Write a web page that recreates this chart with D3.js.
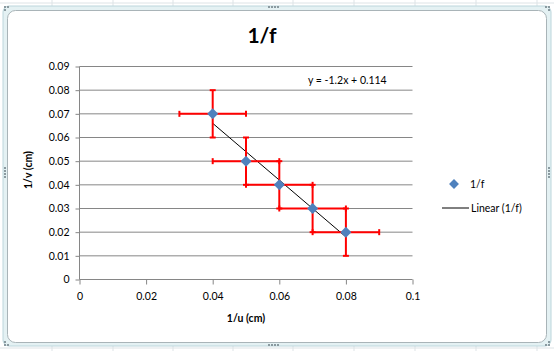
<!DOCTYPE html>
<html><head><meta charset="utf-8">
<script src="https://cdn.jsdelivr.net/npm/d3@7"></script>
<style>body{margin:0;background:#fff;}svg{display:block;font-family:Lato,"Open Sans",sans-serif;}</style>
</head><body>
<svg id="c" width="554" height="351"></svg>
<script>
const xValues = [0.04, 0.05, 0.06, 0.07, 0.08];
const yValues = [0.07, 0.05, 0.04, 0.03, 0.02];
const xErr = [0.01, 0.01, 0.01, 0.01, 0.01];
const yErr = [0.01, 0.01, 0.01, 0.01, 0.01];
const xTicks = [0, 0.02, 0.04, 0.06, 0.08, 0.1];
const yTicks = [0, 0.01, 0.02, 0.03, 0.04, 0.05, 0.06, 0.07, 0.08, 0.09];
const trendSlope = -1.2, trendIntercept = 0.114;
const trendRange = [0.04, 0.08];

const svg = d3.select("#c");
const bg = svg.append("g");
[52,113,173,233,293,354,415,476,537].forEach(x=>bg.append("line").attr("x1",x).attr("x2",x).attr("y1",0).attr("y2",351).attr("stroke","#dde3e6"));
[3,348].forEach(y=>bg.append("line").attr("x1",0).attr("x2",554).attr("y1",y).attr("y2",y).attr("stroke","#dde3e6"));
svg.append("rect").attr("x",3).attr("y",6).attr("width",548).attr("height",340).attr("rx",6)
  .attr("fill","#e4f1f3").attr("stroke","#bcd6dc");
svg.append("rect").attr("x",7.5).attr("y",10.5).attr("width",539).attr("height",332).attr("rx",8)
  .attr("fill","#fff").attr("stroke","#a9b4b8");
function dots(cx,cy,vert){for(let i=0;i<4;i++){svg.append("rect").attr("x",vert?cx:cx+i*3).attr("y",vert?cy+i*3:cy).attr("width",2).attr("height",2).attr("fill","#8a9aa0");}}
dots(268,6,false);dots(268,344,false);dots(4,167,true);dots(548,167,true);
[[4,6],[7,6],[4,9],[545,6],[548,6],[548,9],[4,341],[4,344],[7,344],[548,341],[545,344],[548,344]].forEach(p=>svg.append("rect").attr("x",p[0]).attr("y",p[1]).attr("width",2).attr("height",2).attr("fill","#8a9aa0"));

const x = d3.scaleLinear().domain([0,0.1]).range([79.5,412.5]);
const y = d3.scaleLinear().domain([0,0.09]).range([279.5,66.5]);

svg.append("g").selectAll("line").data(yTicks.filter(t=>t>0)).join("line")
  .attr("x1",x(0)).attr("x2",x(0.1)).attr("y1",d=>y(d)).attr("y2",d=>y(d))
  .attr("stroke","#868686").attr("stroke-width",1);

const fmt = d=> d===0?"0":String(+d.toFixed(2));
const xAxis = svg.append("g").attr("transform",`translate(0,${y(0)})`)
  .call(d3.axisBottom(x).tickValues(xTicks).tickFormat(fmt).tickSize(5).tickPadding(8));
const yAxis = svg.append("g").attr("transform",`translate(${x(0)},0)`)
  .call(d3.axisLeft(y).tickValues(yTicks).tickFormat(fmt).tickSize(4).tickPadding(6));
[xAxis,yAxis].forEach(a=>{a.selectAll("path,line").attr("stroke","#868686");
  a.selectAll("text").attr("font-size","10.5px").attr("fill","#000").attr("font-family","Lato,sans-serif");});
xAxis.select(".domain").attr("d",`M${x(0)},0H${x(0.1)}`);
yAxis.select(".domain").attr("d",`M0,${y(0)}V${y(0.09)}`);

svg.append("line").attr("x1",x(trendRange[0])).attr("y1",y(trendSlope*trendRange[0]+trendIntercept))
  .attr("x2",x(trendRange[1])).attr("y2",y(trendSlope*trendRange[1]+trendIntercept))
  .attr("stroke","#000").attr("stroke-width",1);

const data = xValues.map((v,i)=>({x:v,y:yValues[i],ex:xErr[i],ey:yErr[i]}));
const eb = svg.append("g").attr("stroke","#ff0000").attr("stroke-width",2);
data.forEach(d=>{
  eb.append("line").attr("x1",x(d.x-d.ex)).attr("x2",x(d.x+d.ex)).attr("y1",y(d.y)).attr("y2",y(d.y));
  eb.append("line").attr("x1",x(d.x)).attr("x2",x(d.x)).attr("y1",y(d.y-d.ey)).attr("y2",y(d.y+d.ey));
  [d.x-d.ex,d.x+d.ex].forEach(v=>eb.append("line").attr("x1",x(v)).attr("x2",x(v)).attr("y1",y(d.y)-3).attr("y2",y(d.y)+3));
  [d.y-d.ey,d.y+d.ey].forEach(v=>eb.append("line").attr("y1",y(v)).attr("y2",y(v)).attr("x1",x(d.x)-3).attr("x2",x(d.x)+3));
});

const diamond = "M0,-5.5L5.5,0L0,5.5L-5.5,0Z";
svg.append("g").selectAll("path").data(data).join("path")
  .attr("d",diamond).attr("transform",d=>`translate(${x(d.x)},${y(d.y)})`)
  .attr("fill","#4f81bd");

svg.append("text").attr("x",308).attr("y",84).attr("font-size","10.5px").text("y = -1.2x + 0.114");

svg.append("text").attr("x",262).attr("y",43).attr("text-anchor","middle").attr("font-size","21px").attr("font-weight","bold").text("1/f");
svg.append("text").attr("x",246).attr("y",322).attr("text-anchor","middle").attr("font-size","10.5px").attr("font-weight","bold").text("1/u (cm)");
svg.append("text").attr("transform","translate(32,170) rotate(-90)").attr("text-anchor","middle").attr("font-size","10.5px").attr("font-weight","bold").text("1/v (cm)");

svg.append("path").attr("d",diamond).attr("transform","translate(454,184) scale(0.9)").attr("fill","#4f81bd");
svg.append("text").attr("x",470).attr("y",188).attr("font-size","10.5px").text("1/f");
svg.append("line").attr("x1",442).attr("x2",469).attr("y1",208).attr("y2",208).attr("stroke","#000");
svg.append("text").attr("x",471).attr("y",212).attr("font-size","10.5px").text("Linear (1/f)");
</script>
</body></html>
